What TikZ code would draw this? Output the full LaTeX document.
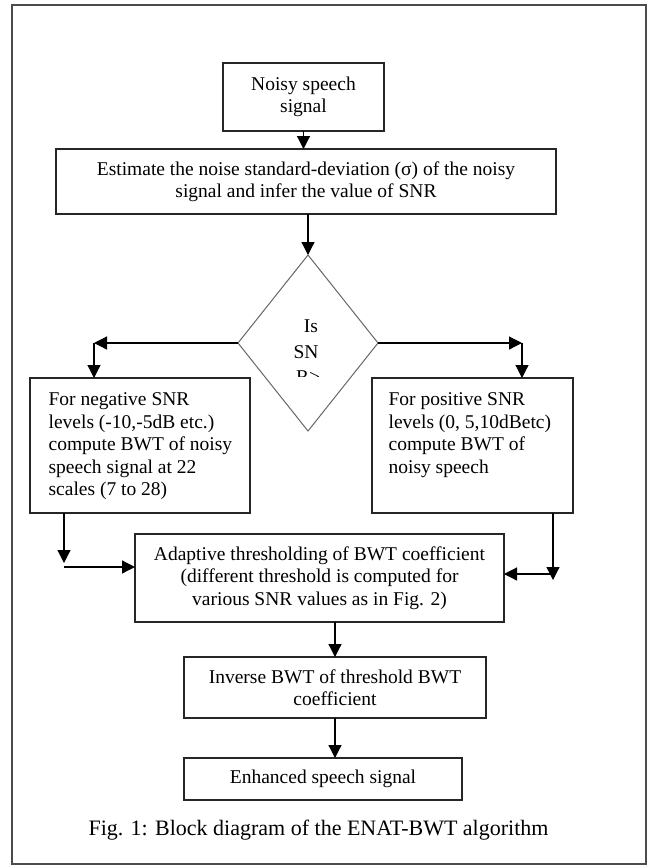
\documentclass[tikz,border=0pt]{standalone}
\usepackage{fontspec}
\setmainfont{Liberation Serif}
\usetikzlibrary{arrows.meta,shapes.geometric}

\newcommand{\blkfont}{\fontsize{19.5}{22.5}\selectfont}
\newcommand{\capfont}{\fontsize{22}{26}\selectfont}

\begin{document}
\begin{tikzpicture}[> = {Triangle[length=13pt,width=13pt]}, % arrow head style
	x=1pt, y=-1pt, % pixel units, y goes down
	line width=1.2pt % line style
	,blk/.style={draw=black!85,inner sep=0pt,outer sep=0pt,align=center,font=\blkfont}
	,dec/.style={diamond,draw=black!60,line width=1pt,inner sep=0pt,outer sep=0pt,minimum width=140pt,minimum height=176pt}
	,txt/.style={inner sep=0pt,align=left,font=\blkfont}]

	\useasboundingbox (0,0) rectangle (648,865);
	\draw[black!70,line width=2pt] (12,5) rectangle (646,864);

	\node[blk,minimum width=161pt,minimum height=68pt] (noisy) at (303.5,97) {Noisy speech\\signal};
	\node[blk,minimum width=500pt,minimum height=65pt] (est) at (306,181.5) {Estimate the noise standard-deviation (σ) of the noisy\\signal and infer the value of SNR};

	\node[dec] (isnr) at (308,343) {};
	\begin{scope}
		\clip (270,300) rectangle (350,376);
		\node[txt,anchor=base] (q1) at (311,332) {Is};
		\node[txt,anchor=base] (q2) at (306,358) {SN};
		\node[txt,anchor=base] (q3) at (308,383) {R>};
	\end{scope}

	\node[blk,minimum width=220pt,minimum height=135pt] (neg) at (140,445.5) {};
	\node[txt,anchor=north west] (negtxt) at (48,392) {For negative SNR\\levels (-10,-5dB etc.)\\compute BWT of noisy\\speech signal at 22\\scales (7 to 28)};
	\node[blk,minimum width=201pt,minimum height=135pt] (pos) at (472.5,445.5) {};
	\node[txt,anchor=north west] (postxt) at (388,392) {For positive SNR\\levels (0, 5,10dBetc)\\compute BWT of\\noisy speech};

	\node[blk,minimum width=369pt,minimum height=88pt] (adapt) at (319.5,578) {Adaptive thresholding of BWT coefficient\\(different threshold is computed for\\various SNR values as in Fig. 2)};
	\node[blk,minimum width=302pt,minimum height=61pt] (inv) at (335,687.5) {Inverse BWT of threshold BWT\\coefficient};
	\node[blk,minimum width=278pt,minimum height=42pt] (enh) at (323,779) {Enhanced speech signal};
	\node[font=\capfont,inner sep=0pt,anchor=base] (cap) at (318.5,835) {Fig. 1: Block diagram of the ENAT-BWT algorithm};

	\coordinate (lc) at (94,343);
	\coordinate (rc) at (522,343);
	\coordinate (lb) at (64,563);
	\coordinate (la) at (64,567);
	\coordinate (rb) at (553,580);
	\coordinate (ra) at (553,574);

	\draw[->] (noisy.south) -- (noisy.south |- est.north);
	\draw[->] (est.south -| isnr.north) -- (isnr.north);
	\draw[->] (isnr.west) -- (lc);
	\draw[->] (lc) -- (lc |- neg.north);
	\draw[->] (isnr.east) -- (rc);
	\draw[->] (rc) -- (rc |- pos.north);
	\draw[->] (neg.south -| lb) -- (lb);
	\draw[->] (la) -- (adapt.west |- la);
	\draw[->] (pos.south -| rb) -- (rb);
	\draw[->] (ra) -- (adapt.east |- ra);
	\draw[->] (adapt.south -| inv.north) -- (inv.north);
	\draw[->] (inv.south) -- (inv.south |- enh.north);

\end{tikzpicture}
\end{document}
